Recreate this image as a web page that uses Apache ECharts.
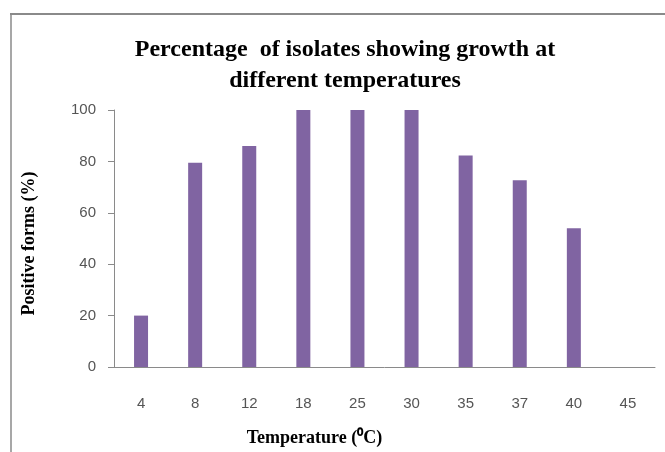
<!DOCTYPE html>
<html>
<head>
<meta charset="utf-8">
<script src="https://cdn.jsdelivr.net/npm/echarts@6/dist/echarts.min.js"></script>
<style>
  html, body { margin: 0; padding: 0; background: #fff; }
  #chart { width: 665px; height: 452px; }
</style>
</head>
<body>
<div id="chart"></div>
<script>
// temperatures (categories) and percentage of positive isolates
const temperatures = ['4', '8', '12', '18', '25', '30', '35', '37', '40', '45'];
const positive = [20, 79.5, 86, 100, 100, 100, 82.3, 72.7, 54, 0];

const chart = echarts.init(document.getElementById('chart'));

const option = {
  backgroundColor: '#fff',
  animation: false,
  title: {
    text: 'Percentage  of isolates showing growth at\ndifferent temperatures',
    left: 340,
    top: 29,
    textAlign: 'center',
    textStyle: {
      fontFamily: 'Liberation Serif',
      fontWeight: 'bold',
      fontSize: 24,
      lineHeight: 31,
      color: '#000'
    }
  },
  // outer chart frame (top and left edges visible)
  graphic: [
    { type: 'line', shape: { x1: 10, y1: 14, x2: 665, y2: 14 }, style: { stroke: '#8a8a8a', lineWidth: 2 } },
    { type: 'line', shape: { x1: 11, y1: 14, x2: 11, y2: 452 }, style: { stroke: '#8a8a8a', lineWidth: 1.5 } }
  ],
  grid: { left: 114, right: 10, top: 110, bottom: 82 },
  xAxis: {
    type: 'category',
    data: temperatures,
    name: 'Temperature (\u2070C)',
    nameLocation: 'middle',
    nameGap: 62,
    nameTextStyle: {
      fontFamily: 'Liberation Serif',
      fontWeight: 'bold',
      fontSize: 18,
      color: '#000',
      padding: [0, 0, 0, -140]
    },
    axisLine: { lineStyle: { color: '#8a8a8a', width: 1 } },
    axisTick: { show: false },
    axisLabel: {
      margin: 29,
      fontFamily: 'Liberation Sans',
      fontSize: 15,
      color: '#555'
    }
  },
  yAxis: {
    type: 'value',
    min: 0,
    max: 100,
    interval: 20,
    name: 'Positive forms (%)',
    nameLocation: 'middle',
    nameGap: 76,
    nameRotate: 90,
    nameTextStyle: {
      fontFamily: 'Liberation Serif',
      fontWeight: 'bold',
      fontSize: 18,
      color: '#000',
      padding: [0, 10, 0, 0]
    },
    axisLine: { show: true, lineStyle: { color: '#8a8a8a', width: 1 } },
    axisTick: { show: true, inside: false, length: 6, lineStyle: { color: '#8a8a8a' } },
    splitLine: { show: false },
    axisLabel: {
      margin: 18,
      fontFamily: 'Liberation Sans',
      fontSize: 15,
      color: '#555'
    }
  },
  series: [{
    type: 'bar',
    data: positive,
    barWidth: 14,
    itemStyle: { color: '#8064A2' }
  }]
};

chart.setOption(option);
</script>
</body>
</html>
